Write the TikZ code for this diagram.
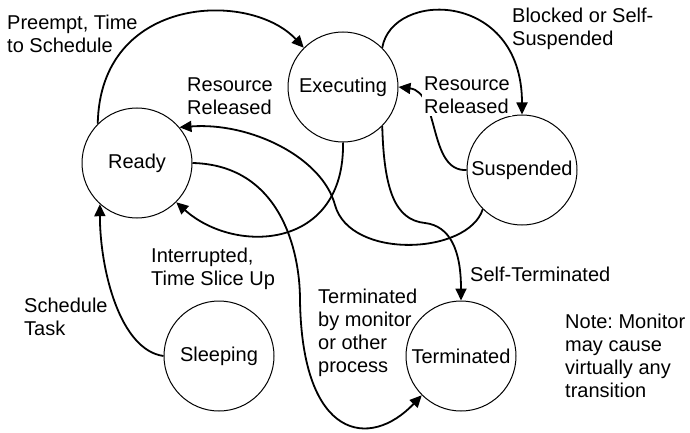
\documentclass[tikz,border=0pt]{standalone}
\usepackage{fontspec}
\setmainfont{Liberation Sans}
\frenchspacing
\usetikzlibrary{arrows.meta}
\tikzset{
  state/.style={circle,draw,line width=1pt,minimum size=110pt,inner sep=0pt,
    font=\fontsize{20}{23}\selectfont},
  trans/.style={-{Triangle[length=12pt,width=11pt]}, line width=1.8pt},
  tlabel/.style={align=left,anchor=north west,inner sep=0pt,
    font=\fontsize{20}{23}\selectfont}
}

\begin{document}
\begin{tikzpicture}[x=1pt,y=-1pt]
  \useasboundingbox (0,0) rectangle (690,433);
  % states
  \node[state] (exec)  at (343,87)  {Executing};
  \node[state] (ready) at (137,163) {Ready};
  \node[state] (susp)  at (522,170) {Suspended};
  \node[state] (sleep) at (219,356) {Sleeping};
  \node[state] (term)  at (461,356) {Terminated};
  % transitions
  \draw[trans] (ready.135) .. controls (100,-5) and (250,-10) .. (exec.135);
  \draw[trans] (exec.45) .. controls (392,-10) and (522,-10) .. (susp.north);
  \draw[trans] (susp.west) .. controls (428,172) and (440,92) .. (exec.east);
  \draw[trans] (susp.225) .. controls (468,255) and (350,260) .. (335,205)
    .. controls (322,157) and (250,122) .. (ready.40);
  \draw[trans] (exec.south) .. controls (345,250) and (235,255) .. (ready.-45);
  \draw[trans] (exec.-45) .. controls (384,190) and (395,220) .. (425,223)
    .. controls (450,226) and (461,250) .. (term.north);
  \draw[trans] (ready.east) .. controls (280,165) and (300,250) .. (300,300)
    .. controls (302,440) and (370,450) .. (term.225);
  \draw[trans] (sleep.west) .. controls (120,350) and (100,270) .. (ready.228);
  % labels
  \node[tlabel] (lpreempt) at (7,15) {Preempt, Time\\to Schedule};
  \node[tlabel] (lrelready) at (187,78) {Resource\\Released};
  \node[tlabel] (lblocked) at (512,8) {Blocked or Self-\\Suspended};
  \node[tlabel,fill=white,inner sep=2pt] (lrelexec) at (422,75) {Resource\\Released};
  \node[tlabel] (lslice) at (151,248) {Interrupted,\\Time Slice Up};
  \node[tlabel] (lsched) at (24,298) {Schedule\\Task};
  \node[tlabel] (lmonitor) at (318,289) {Terminated\\by monitor\\or other\\process};
  \node[tlabel] (lself) at (470,267) {Self-Terminated};
  \node[tlabel] (lnote) at (565,314) {Note: Monitor\\may cause\\virtually any\\transition};
\end{tikzpicture}
\end{document}
